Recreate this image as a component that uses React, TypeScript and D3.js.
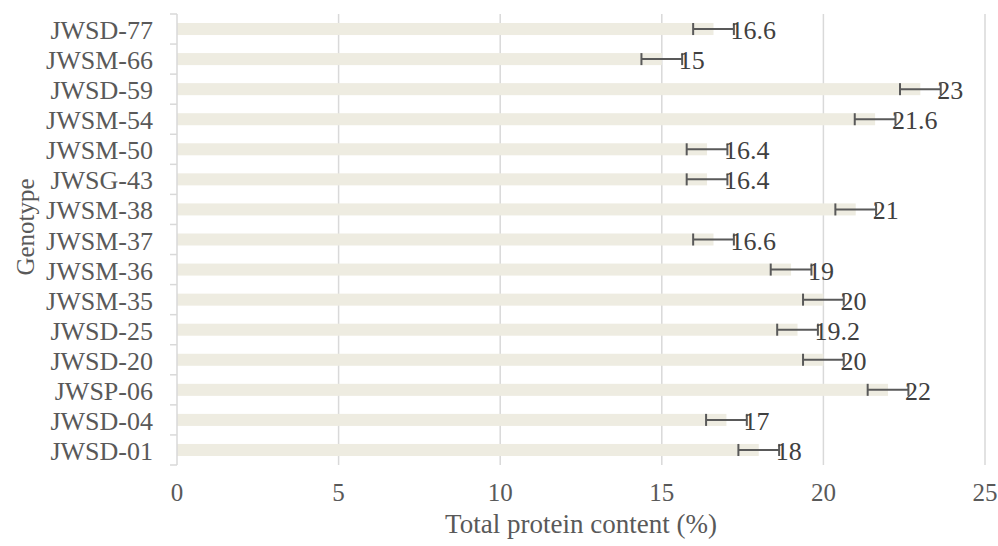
import React from "react";
import * as d3 from "d3";

const categories = [
  "JWSD-77", "JWSM-66", "JWSD-59", "JWSM-54", "JWSM-50", "JWSG-43", "JWSM-38",
  "JWSM-37", "JWSM-36", "JWSM-35", "JWSD-25", "JWSD-20", "JWSP-06", "JWSD-04", "JWSD-01",
];
const values = [16.6, 15, 23, 21.6, 16.4, 16.4, 21, 16.6, 19, 20, 19.2, 20, 22, 17, 18];
const errors = [0.63, 0.63, 0.63, 0.63, 0.63, 0.63, 0.63, 0.63, 0.63, 0.63, 0.63, 0.63, 0.63, 0.63, 0.63];
const xTicks = [0, 5, 10, 15, 20, 25];
const xTitle = "Total protein content (%)";
const yTitle = "Genotype";

const W = 998, H = 546;
const left = 177, right = 985, top = 14, bottom = 465;
const font = "'Liberation Serif', 'Times New Roman', serif";
const textColor = "#595959";

export default function App() {
  const x = d3.scaleLinear().domain([0, 25]).range([left, right]);
  const y = d3.scaleBand().domain(categories).range([top, bottom]).paddingInner(0.6).paddingOuter(0.3);
  const step = y.step();
  const bh = y.bandwidth();
  const boundaries = d3.range(categories.length + 1).map((i) => top + i * step);
  return (
    <svg width={W} height={H} style={{ position: "absolute", left: 0, top: 0, background: "#fff" }}>
      {xTicks.slice(1).map((t) => (
        <line key={"g" + t} x1={x(t)} x2={x(t)} y1={top} y2={bottom} stroke="#D9D9D9" strokeWidth={1.5} />
      ))}
      {categories.map((c, i) => (
        <rect key={"b" + c} x={x(0)} y={y(c)} width={x(values[i]) - x(0)} height={bh} fill="#EEECE1" />
      ))}
      <line x1={left} x2={left} y1={top} y2={bottom} stroke="#D9D9D9" strokeWidth={1.5} />
      {boundaries.map((b, i) => (
        <line key={"t" + i} x1={left - 7} x2={left} y1={b} y2={b} stroke="#D9D9D9" strokeWidth={1.5} />
      ))}
      {categories.map((c, i) => {
        const cy = (y(c) as number) + bh / 2;
        const lo = x(values[i] - errors[i]);
        const hi = x(values[i] + errors[i]);
        return (
          <g key={"e" + c} stroke="#595959" strokeWidth={2}>
            <line x1={lo} x2={hi} y1={cy} y2={cy} />
            <line x1={lo} x2={lo} y1={cy - bh / 2} y2={cy + bh / 2} />
            <line x1={hi} x2={hi} y1={cy - bh / 2} y2={cy + bh / 2} />
          </g>
        );
      })}
      {categories.map((c, i) => {
        const cy = (y(c) as number) + bh / 2;
        return (
          <text key={"v" + c} x={x(values[i]) + 17} y={cy + 10} fontFamily={font} fontSize={26} fill="#404040">
            {values[i]}
          </text>
        );
      })}
      {categories.map((c) => {
        const cy = (y(c) as number) + bh / 2;
        return (
          <text key={"c" + c} x={153} y={cy + 10} textAnchor="end" fontFamily={font} fontSize={26} fill={textColor}>
            {c}
          </text>
        );
      })}
      {xTicks.map((t) => (
        <text key={"x" + t} x={x(t)} y={501} textAnchor="middle" fontFamily={font} fontSize={25} fill={textColor}>
          {t}
        </text>
      ))}
      <text x={(left + right) / 2 - 0} y={533} textAnchor="middle" fontFamily={font} fontSize={27} fill={textColor}>
        {xTitle}
      </text>
      <text transform={`translate(34, 227) rotate(-90)`} textAnchor="middle" fontFamily={font} fontSize={25} fill={textColor}>
        {yTitle}
      </text>
    </svg>
  );
}
